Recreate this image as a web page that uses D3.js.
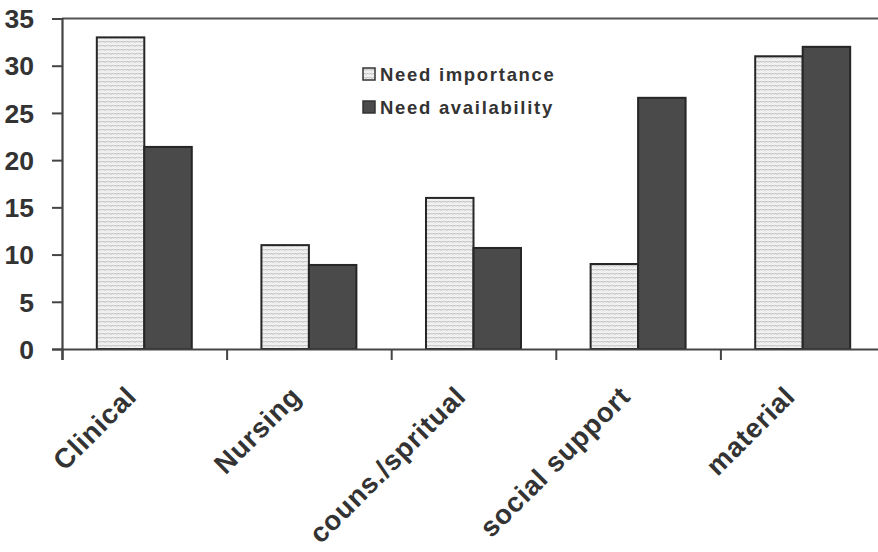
<!DOCTYPE html>
<html><head><meta charset="utf-8">
<script src="https://cdn.jsdelivr.net/npm/d3@7"></script>
<style>body{margin:0;background:#fff}svg{display:block}</style>
</head><body>
<svg id="c" width="878" height="552"></svg>
<script>
const categories = ["Clinical", "Nursing", "couns./spritual", "social support", "material"];
const seriesNames = ["Need importance", "Need availability"];
const importance = [33, 11, 16, 9, 31];
const availability = [21.4, 8.9, 10.7, 26.6, 32];
const yTicks = [0, 5, 10, 15, 20, 25, 30, 35];

(function () {
const svg = d3.select("#c");
const mLeft = 62, mRight = 885, mTop = 18.5, mBottom = 349;
const ink = "#333";
const font = "'Liberation Sans', Arial, sans-serif";

const defs = svg.append("defs");
const pat = defs.append("pattern").attr("id", "wave").attr("patternUnits", "userSpaceOnUse")
  .attr("width", 6).attr("height", 4);
pat.append("rect").attr("width", 6).attr("height", 4).attr("fill", "#f0f0f0");
pat.append("path").attr("d", "M0,2.5 L1.5,1 L3,2.5 L4.5,1 L6,2.5").attr("fill", "none")
  .attr("stroke", "#a8a8a8").attr("stroke-width", 0.8);

const y = d3.scaleLinear().domain([0, 35]).range([mBottom, mTop]);
const x0 = d3.scaleBand().domain(categories).range([mLeft, mRight]).paddingInner(0.423).paddingOuter(0.2115);
const x1 = d3.scaleBand().domain(seriesNames).range([0, x0.bandwidth()]);
const xb = d3.scaleLinear().domain([0, categories.length]).range([mLeft, mRight]);

// top border
svg.append("line").attr("x1", mLeft).attr("x2", 878).attr("y1", mTop).attr("y2", mTop)
  .attr("stroke", "#555").attr("stroke-width", 2.2);

// bars
const data = categories.map((c, i) => ({c, vals: [importance[i], availability[i]]}));
const g = svg.append("g");
data.forEach(d => {
  d.vals.forEach((v, k) => {
    g.append("rect")
      .attr("x", x0(d.c) + x1(seriesNames[k]))
      .attr("y", y(v))
      .attr("width", x1.bandwidth())
      .attr("height", y(0) - y(v))
      .attr("fill", k === 0 ? "url(#wave)" : "#4a4a4a")
      .attr("stroke", "#262626").attr("stroke-width", 2);
  });
});

// y axis
const ya = svg.append("g").attr("transform", `translate(${mLeft},0)`)
  .call(d3.axisLeft(y).tickValues(yTicks).tickSize(10).tickPadding(18));
ya.select(".domain").attr("stroke", "#444").attr("stroke-width", 2.2);
ya.selectAll(".tick line").attr("stroke", "#444").attr("stroke-width", 2);
ya.selectAll(".tick text").attr("fill", ink).attr("font-family", font).attr("font-weight", "bold")
  .attr("font-size", 26.5).attr("dy", "0.35em");

// x axis
const xa = svg.append("g").attr("transform", `translate(0,${mBottom})`)
  .call(d3.axisBottom(xb).tickValues(d3.range(0, categories.length + 1)).tickSize(11).tickFormat(""));
xa.select(".domain").attr("stroke", "#444").attr("stroke-width", 2.2);
xa.selectAll(".tick line").attr("stroke", "#444").attr("stroke-width", 2);

// category labels
svg.append("g").selectAll("text").data(categories).join("text")
  .attr("transform", d => `translate(${x0(d) + x0.bandwidth() / 2 - 6},398) rotate(-45)`)
  .attr("text-anchor", "end")
  .attr("fill", ink).attr("font-family", font).attr("font-weight", "bold").attr("font-size", 27.5)
  .attr("letter-spacing", 0.8).text(d => d);

// legend
const lg = svg.append("g").attr("transform", "translate(363,68)");
seriesNames.forEach((s, k) => {
  const row = lg.append("g").attr("transform", `translate(0,${k * 33})`);
  row.append("rect").attr("width", 12).attr("height", 12)
    .attr("fill", k === 0 ? "url(#wave)" : "#4a4a4a").attr("stroke", "#333").attr("stroke-width", 1.5);
  row.append("text").attr("x", 17).attr("y", 13).attr("fill", ink)
    .attr("font-family", font).attr("font-weight", "bold").attr("font-size", 18.5)
    .attr("letter-spacing", 1.7).text(s);
});
})();
</script>
</body></html>
